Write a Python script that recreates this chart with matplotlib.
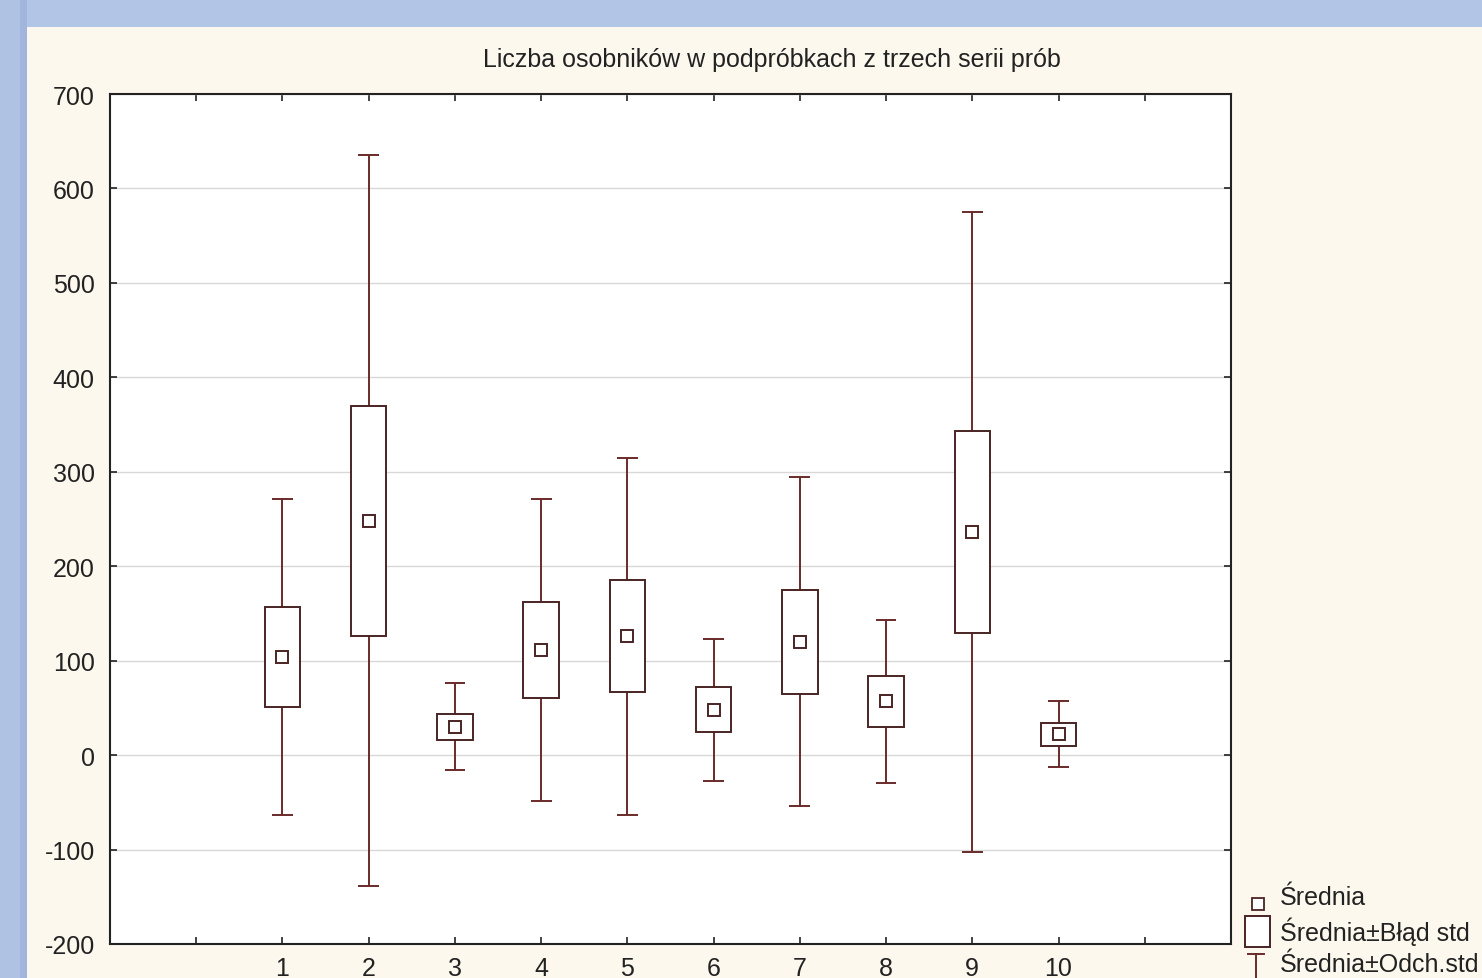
import matplotlib
matplotlib.use("Agg")
import matplotlib.pyplot as plt
from matplotlib.patches import Rectangle
from matplotlib.lines import Line2D
import numpy as np

plt.rcParams['font.family'] = ['Liberation Sans', 'DejaVu Sans']
plt.rcParams['axes.unicode_minus'] = False

# ---- data ----
groups = [1, 2, 3, 4, 5, 6, 7, 8, 9, 10]
means = [104, 248, 30, 111, 126, 48, 120, 57, 236, 22]
se = [53, 122, 14, 51, 59, 24, 55, 27, 107, 12]
sd = [167, 387, 46, 160, 189, 75, 174, 86, 339, 35]
title = "Liczba osobników w podpróbkach z trzech serii prób"
legend_labels = ["Średnia", "Średnia±Błąd std", "Średnia±Odch.std"]

W, H = 1482, 979
fig = plt.figure(figsize=(W / 100, H / 100), dpi=100)
fig.patch.set_facecolor('#fcf8ee')


def fx(x):
    return x / W


def fy(y):
    return 1 - y / H


# slide background pieces (blue band on top and left)
fig.patches.append(Rectangle((0, fy(28)), 1, 28 / H, transform=fig.transFigure,
                             facecolor='#b3c5e6', edgecolor='none', zorder=0))
fig.patches.append(Rectangle((0, 0), fx(20), 1, transform=fig.transFigure,
                             facecolor='#b0c2e4', edgecolor='none', zorder=0))
fig.patches.append(Rectangle((fx(20), 0), 7 / W, 1, transform=fig.transFigure,
                             facecolor='#a2b5dc', edgecolor='none', zorder=0))

ax = fig.add_axes([fx(110), fy(945), 1121 / W, 850 / H])
ax.set_facecolor('white')

col = '#6a2a2a'
box_col = '#4a2424'
bw = 0.41
for x, m, s, d in zip(groups, means, se, sd):
    ax.vlines(x, m - d, m + d, color=col, lw=1.4, zorder=2)
    ax.hlines([m - d, m + d], x - 0.12, x + 0.12, color=col, lw=1.4, zorder=2)
    ax.add_patch(Rectangle((x - bw / 2, m - s), bw, 2 * s, facecolor='white',
                           edgecolor=box_col, lw=1.4, zorder=3))
ax.plot(groups, means, ls='none', marker='s', ms=9.3, mfc='white', mec=box_col,
        mew=1.4, zorder=4)

ax.set_xlim(-1, 12)
ax.set_ylim(-200, 700)
ax.set_xticks(range(0, 12))
ax.set_xticklabels([''] + [str(g) for g in groups] + [''])
ax.set_yticks(range(-200, 701, 100))
ax.yaxis.grid(True, color='#d8d8d8', lw=1)
ax.set_axisbelow(True)
ax.tick_params(direction='in', length=5, width=1.2, top=True, right=True,
               labelsize=18, colors='#222222')
ax.tick_params(axis='y', pad=11)
ax.tick_params(axis='x', pad=9)
for sp in ax.spines.values():
    sp.set_color('#222222')
    sp.set_linewidth(1.5)

fig.text(fx(772), fy(60), title, ha='center', va='center', fontsize=18,
         color='#222222')

# ---- legend (drawn manually, partly cut off at right edge like the reference) ----
lx = 1280
rows = [898, 932, 965]
for lab, r in zip(legend_labels, rows):
    fig.text(fx(lx), fy(r), lab, ha='left', va='center', fontsize=18,
             color='#222222')
fig.add_artist(Line2D([fx(1258)], [fy(905)], ls='none', marker='s', ms=9,
                      mfc='white', mec=box_col, mew=1.3, transform=fig.transFigure))
fig.patches.append(Rectangle((fx(1245), fy(948)), 25 / W, 31 / H,
                             transform=fig.transFigure, facecolor='white',
                             edgecolor=box_col, lw=1.4))
fig.add_artist(Line2D([fx(1248), fx(1264)], [fy(955), fy(955)], color=col, lw=1.4,
                      transform=fig.transFigure))
fig.add_artist(Line2D([fx(1256), fx(1256)], [fy(955), fy(980)], color=col, lw=1.4,
                      transform=fig.transFigure))

fig.savefig('out.png', dpi=100, facecolor=fig.get_facecolor())
